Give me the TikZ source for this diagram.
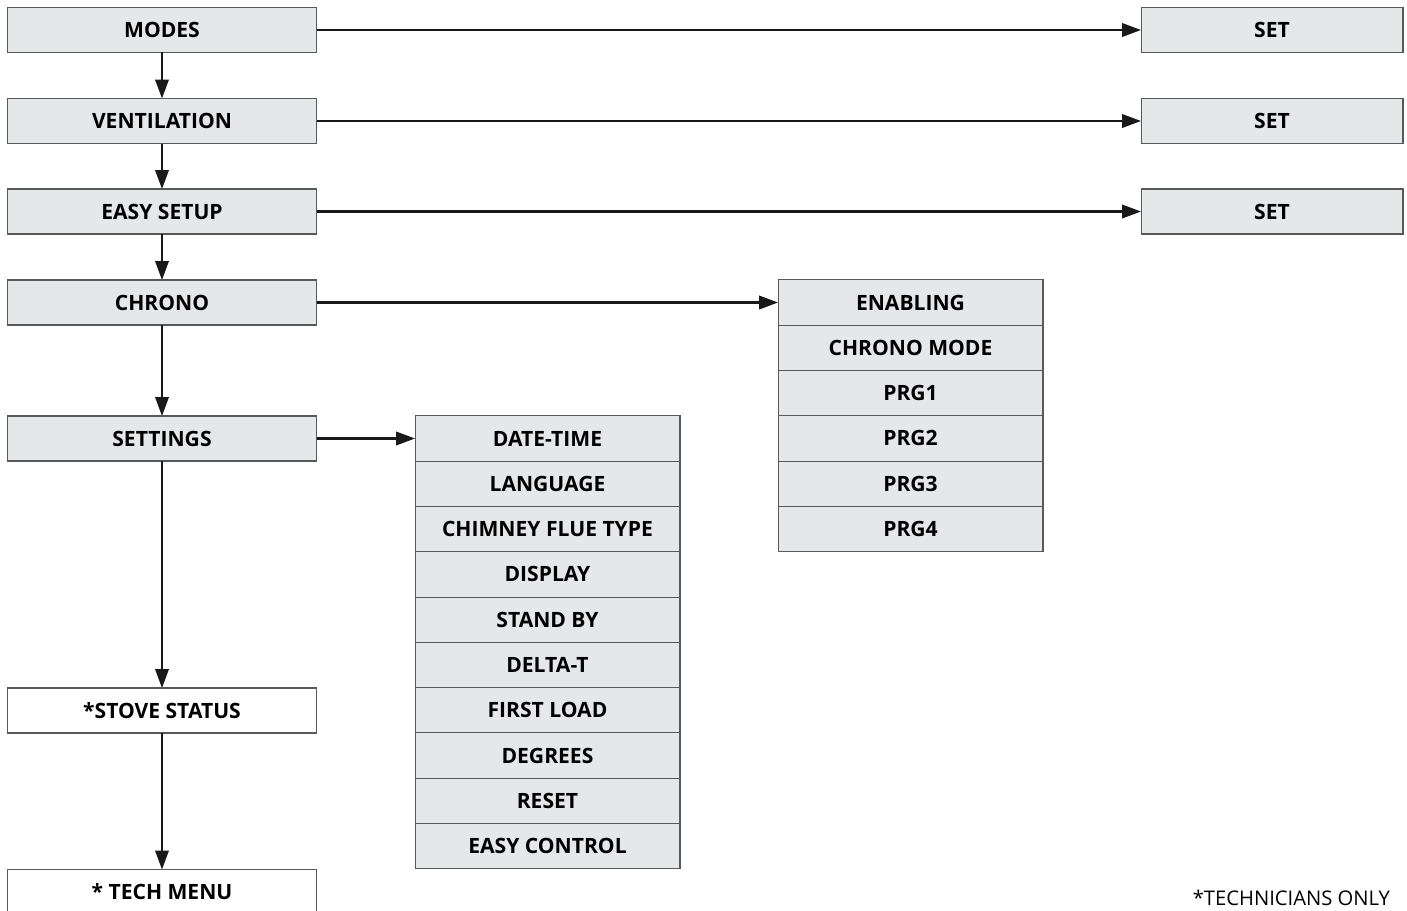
\documentclass[tikz,border=0pt]{standalone}
\usepackage{fontspec}
\setmainfont{Open Sans}
\usetikzlibrary{arrows.meta}
\definecolor{boxgray}{HTML}{E6E7E8}
\definecolor{edgegray}{HTML}{58595B}

\begin{document}
\begin{tikzpicture}[x=0.02cm,y=-0.02cm,font=\bfseries\fontsize{12}{14}\selectfont,
  menu/.style={draw=edgegray,line width=0.6pt,fill=boxgray,minimum width=6.2cm,minimum height=0.9cm,inner sep=0pt,outer sep=0pt},
  setbox/.style={menu,minimum width=5.24cm},
  sub/.style={menu,minimum width=5.3cm,minimum height=0.906cm},
  tech/.style={menu,fill=white},
  link/.style={->,line width=1.2pt,black!90},
  >={Triangle[length=0.38cm,width=0.27cm]}]
\useasboundingbox (0,0) rectangle (1407,910);
% main menu
\node[menu] (modes) at (162,30) {MODES};
\node[menu] (vent) at (162,121) {VENTILATION};
\node[menu] (easy) at (162,211.5) {EASY SETUP};
\node[menu] (chrono) at (162,302.5) {CHRONO};
\node[menu] (settings) at (162,438.5) {SETTINGS};
\node[tech] (status) at (162,710.5) {*STOVE STATUS};
\node[tech] (techmenu) at (162,892) {* TECH MENU};
% set boxes
\node[setbox] (set1) at (1272,30) {SET};
\node[setbox] (set2) at (1272,121) {SET};
\node[setbox] (set3) at (1272,211.5) {SET};
% chrono list
\foreach \txt [count=\i from 0] in {ENABLING,CHRONO MODE,PRG1,PRG2,PRG3,PRG4}
  \node[sub] (crow\i) at (910.5,{302.5+45.3*\i}) {\txt};
% settings list
\foreach \txt [count=\i from 0] in {DATE-TIME,LANGUAGE,CHIMNEY FLUE TYPE,DISPLAY,STAND BY,DELTA-T,FIRST LOAD,DEGREES,RESET,EASY CONTROL}
  \node[sub] (srow\i) at (547.5,{438.5+45.3*\i}) {\txt};
\node[anchor=east,font=\fontsize{11.5}{13}\selectfont] (note) at (1396,898) {*TECHNICIANS ONLY};
% arrows
\draw[link] (modes) -- (set1);
\draw[link] (vent) -- (set2);
\draw[link] (easy) -- (set3);
\draw[link] (chrono) -- (crow0);
\draw[link] (settings) -- (srow0);
\draw[link] (modes) -- (vent);
\draw[link] (vent) -- (easy);
\draw[link] (easy) -- (chrono);
\draw[link] (chrono) -- (settings);
\draw[link] (settings) -- (status);
\draw[link] (status) -- (techmenu);
\end{tikzpicture}
\end{document}
